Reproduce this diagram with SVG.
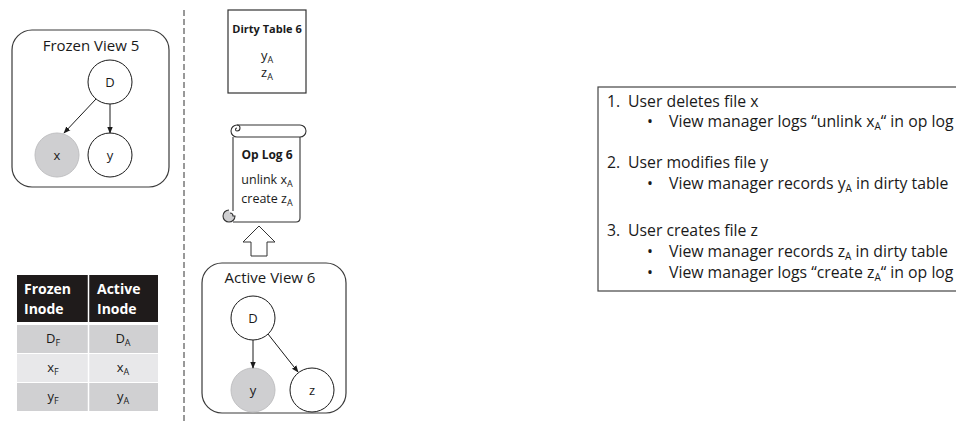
<svg xmlns="http://www.w3.org/2000/svg" width="956" height="422" viewBox="0 0 956 422">
  <style>
    text { font-family: "Open Sans", "Liberation Sans", sans-serif; fill: #1a1a1a; }
    .frame { fill: #fff; stroke: #3a3a3a; stroke-width: 1.2; }
    .node { fill: #fff; stroke: #1a1a1a; stroke-width: 1; }
    .node.gray { fill: #cfcfd1; stroke: #c0c0c2; }
    .lbl { font-size: 13px; text-anchor: middle; }
    .title { font-size: 15px; text-anchor: middle; }
    .head { font-weight: bold; text-anchor: middle; }
    .edge { stroke: #1a1a1a; stroke-width: 1; fill: none; marker-end: url(#ah); }
    .list { font-size: 15.8px; }
    .cell { font-size: 13px; text-anchor: middle; }
    .hdr { font-size: 14px; font-weight: bold; fill: #fff; }
    .sub { font-size: 9px; }
    .sub2 { font-size: 10px; }
    .scroll text { stroke: none; }
  </style>
  <defs>
    <marker id="ah" viewBox="0 0 10 10" refX="9" refY="5" markerWidth="7" markerHeight="7" orient="auto" markerUnits="userSpaceOnUse">
      <path d="M0,1 L10,5 L0,9 z" fill="#1a1a1a"/>
    </marker>
  </defs>

  <!-- separator -->
  <line x1="184" y1="10" x2="184" y2="422" stroke="#333" stroke-width="1" stroke-dasharray="6,3"/>

  <!-- frozen view -->
  <g id="frozen-view">
    <rect class="frame" x="12" y="30" width="157" height="157" rx="20"/>
    <text class="title" x="91" y="51">Frozen View 5</text>
  </g>
  <g id="frozen-D">
    <circle class="node" cx="110" cy="82" r="22"/>
    <text class="lbl" x="110" y="87">D</text>
  </g>
  <g id="frozen-x">
    <circle class="node gray" cx="57" cy="155" r="22"/>
    <text class="lbl" x="57" y="160">x</text>
  </g>
  <g id="frozen-y">
    <circle class="node" cx="110" cy="155" r="22"/>
    <text class="lbl" x="110" y="160">y</text>
  </g>

  <!-- dirty table -->
  <g id="dirty-table">
    <rect x="228" y="10" width="78" height="83" fill="#fff" stroke="#333" stroke-width="1.2"/>
    <text class="head" x="267" y="33" style="font-size:11px">Dirty Table 6</text>
    <text class="lbl" x="267" y="60">y<tspan class="sub" dy="3">A</tspan></text>
    <text class="lbl" x="267" y="77">z<tspan class="sub" dy="3">A</tspan></text>
  </g>

  <!-- op log scroll -->
  <g id="op-log" class="scroll" fill="none" stroke="#333" stroke-width="1.1">
    <rect x="233" y="137" width="67" height="85" fill="#fff" stroke="none"/>
    <path d="M233,137 V211 M233,222 H296 Q300,222 300,218 V137"/>
    <path d="M237,125 H300 A6,6 0 0 1 300,137 H237 A6,6 0 0 1 237,125 Z" fill="#fff"/>
    <path d="M237,125 A3,3 0 0 1 237,131 A1.5,1.5 0 0 1 237,128"/>
    <path d="M229,210 A6,6 0 1 0 235,216 L233,216 A3,3 0 0 0 230,213" fill="#cfcfd1"/>
    <text class="head" x="267" y="159" style="font-size:12px">Op Log 6</text>
    <text class="lbl" x="267" y="184" style="font-size:12.5px">unlink x<tspan class="sub" dy="3">A</tspan></text>
    <text class="lbl" x="267" y="203" style="font-size:12.5px">create z<tspan class="sub" dy="3">A</tspan></text>
  </g>

  <!-- active view -->
  <g id="active-view">
    <rect class="frame" x="202" y="263" width="144" height="150" rx="20"/>
    <text class="title" x="270" y="283">Active View 6</text>
  </g>
  <g id="active-D">
    <circle class="node" cx="253" cy="318" r="22"/>
    <text class="lbl" x="253" y="323">D</text>
  </g>
  <g id="active-y">
    <circle class="node gray" cx="253" cy="390" r="22"/>
    <text class="lbl" x="253" y="395">y</text>
  </g>
  <g id="active-z">
    <circle class="node" cx="312" cy="390" r="22"/>
    <text class="lbl" x="312" y="395">z</text>
  </g>

  <!-- inode map table -->
  <g id="inode-table">
    <rect x="17" y="275" width="141" height="47" fill="#1f1b1b"/>
    <rect x="17" y="325" width="141" height="28" fill="#d0d0d2"/>
    <rect x="17" y="354" width="141" height="28" fill="#e8e8ea"/>
    <rect x="17" y="383" width="141" height="28" fill="#d0d0d2"/>
    <line x1="88.5" y1="275" x2="88.5" y2="411" stroke="#fff" stroke-width="1.5"/>
    <text class="hdr" x="24" y="294">Frozen</text>
    <text class="hdr" x="24" y="314">Inode</text>
    <text class="hdr" x="97" y="294">Active</text>
    <text class="hdr" x="97" y="314">Inode</text>
    <text class="cell" x="53" y="343">D<tspan class="sub" dy="3">F</tspan></text>
    <text class="cell" x="123" y="343">D<tspan class="sub" dy="3">A</tspan></text>
    <text class="cell" x="53" y="372">x<tspan class="sub" dy="3">F</tspan></text>
    <text class="cell" x="123" y="372">x<tspan class="sub" dy="3">A</tspan></text>
    <text class="cell" x="53" y="401">y<tspan class="sub" dy="3">F</tspan></text>
    <text class="cell" x="123" y="401">y<tspan class="sub" dy="3">A</tspan></text>
  </g>

  <!-- step list -->
  <g id="steps">
    <rect x="598" y="87" width="370" height="204" fill="#fff" stroke="#444" stroke-width="1.2"/>
    <text class="list" x="607" y="107">1.</text>
    <text class="list" x="628" y="107">User deletes file x</text>
    <text class="list" x="647" y="127">•</text>
    <text class="list" x="669" y="127">View manager logs “unlink x<tspan class="sub2" dy="2.5">A</tspan><tspan dy="-2.5">“ in op log</tspan></text>
    <text class="list" x="607" y="168">2.</text>
    <text class="list" x="628" y="168">User modifies file y</text>
    <text class="list" x="647" y="189">•</text>
    <text class="list" x="669" y="189">View manager records y<tspan class="sub2" dy="2.5">A</tspan><tspan dy="-2.5"> in dirty table</tspan></text>
    <text class="list" x="607" y="236">3.</text>
    <text class="list" x="628" y="236">User creates file z</text>
    <text class="list" x="647" y="257">•</text>
    <text class="list" x="669" y="257">View manager records z<tspan class="sub2" dy="2.5">A</tspan><tspan dy="-2.5"> in dirty table</tspan></text>
    <text class="list" x="647" y="278">•</text>
    <text class="list" x="669" y="278">View manager logs “create z<tspan class="sub2" dy="2.5">A</tspan><tspan dy="-2.5">“ in op log</tspan></text>
  </g>

  <!-- connectors -->
  <g id="connectors">
    <line class="edge" x1="96" y1="99" x2="64" y2="133"/>
    <line class="edge" x1="110" y1="104" x2="110" y2="133"/>
    <line class="edge" x1="253" y1="340" x2="253" y2="368"/>
    <line class="edge" x1="268" y1="334" x2="298" y2="372"/>
    <polygon points="259,226 275,242 267,242 267,256 251,256 251,242 243,242" fill="#fff" stroke="#333" stroke-width="1"/>
  </g>
</svg>
